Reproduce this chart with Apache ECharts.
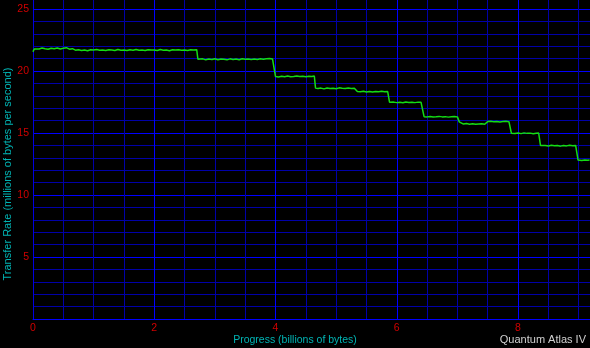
<!DOCTYPE html>
<html>
<head>
<meta charset="utf-8">
<script src="https://cdn.jsdelivr.net/npm/echarts@6/dist/echarts.min.js"></script>
<style>
html,body{margin:0;padding:0;background:#000;}
#chart{width:590px;height:348px;}
</style>
</head>
<body>
<div id="chart"></div>
<script>
// Progress (billions of bytes)
const progress = [
  0.00, 0.02, 0.05, 0.10, 0.15, 0.20, 0.25, 0.30, 0.35, 0.40, 0.45, 0.50, 0.55, 0.60, 0.65,
  0.70, 0.75, 0.80, 0.85, 0.90, 0.95, 1.00, 1.05, 1.10, 1.15, 1.20, 1.25, 1.30, 1.35, 1.40,
  1.45, 1.50, 1.55, 1.60, 1.65, 1.70, 1.75, 1.80, 1.85, 1.90, 1.95, 2.00, 2.05, 2.10, 2.15,
  2.20, 2.25, 2.30, 2.35, 2.40, 2.45, 2.50, 2.55, 2.60, 2.65, 2.70,
  2.72, 2.75, 2.80, 2.85, 2.90, 2.95, 3.00, 3.05, 3.10, 3.15, 3.20, 3.25, 3.30, 3.35, 3.40,
  3.45, 3.50, 3.55, 3.60, 3.65, 3.70, 3.75, 3.80, 3.85, 3.90, 3.95, 3.98,
  4.00, 4.05, 4.10, 4.15, 4.20, 4.25, 4.30, 4.35, 4.40, 4.45, 4.50, 4.55, 4.60, 4.64,
  4.66, 4.70, 4.75, 4.80, 4.85, 4.90, 4.95, 5.00, 5.05, 5.10, 5.15, 5.20, 5.25, 5.30, 5.33,
  5.35, 5.40, 5.45, 5.50, 5.55, 5.60, 5.65, 5.70, 5.75, 5.80, 5.85,
  5.88, 5.90, 5.95, 6.00, 6.05, 6.10, 6.15, 6.20, 6.25, 6.30, 6.35, 6.40, 6.43,
  6.45, 6.50, 6.55, 6.60, 6.65, 6.70, 6.75, 6.80, 6.85, 6.90, 6.95, 7.00,
  7.03, 7.05, 7.10, 7.15, 7.20, 7.25, 7.30, 7.35, 7.40, 7.45, 7.48,
  7.50, 7.55, 7.60, 7.65, 7.70, 7.75, 7.80, 7.85, 7.87,
  7.89, 7.95, 8.00, 8.05, 8.10, 8.15, 8.20, 8.25, 8.30, 8.34,
  8.37, 8.40, 8.45, 8.50, 8.55, 8.60, 8.65, 8.70, 8.75, 8.80, 8.85, 8.90, 8.95, 8.97,
  8.99, 9.05, 9.10, 9.15, 9.18
];
// Transfer Rate (millions of bytes per second)
const rate = [
  21.55, 21.78, 21.82, 21.78, 21.85, 21.80, 21.76, 21.84, 21.79, 21.86, 21.78, 21.83, 21.88, 21.76, 21.80,
  21.68, 21.72, 21.66, 21.70, 21.64, 21.71, 21.69, 21.74, 21.67, 21.70, 21.66, 21.72, 21.69, 21.65, 21.73,
  21.68, 21.70, 21.66, 21.71, 21.68, 21.74, 21.67, 21.70, 21.65, 21.72, 21.69, 21.70, 21.66, 21.73, 21.68,
  21.70, 21.64, 21.71, 21.69, 21.72, 21.67, 21.70, 21.66, 21.71, 21.69, 21.72,
  20.95, 20.92, 20.98, 20.90, 20.96, 20.93, 20.99, 20.91, 20.97, 20.94, 20.90, 20.98, 20.93, 20.96, 20.91,
  20.99, 20.94, 20.97, 20.92, 20.96, 20.93, 20.98, 20.95, 20.99, 21.00, 20.97, 20.96,
  19.55, 19.52, 19.57, 19.54, 19.59, 19.53, 19.56, 19.60, 19.55, 19.58, 19.54, 19.57, 19.55, 19.60,
  18.62, 18.58, 18.62, 18.56, 18.63, 18.59, 18.61, 18.57, 18.64, 18.60, 18.58, 18.62, 18.59, 18.61, 18.58,
  18.35, 18.32, 18.36, 18.30, 18.34, 18.31, 18.35, 18.33, 18.36, 18.32, 18.34,
  17.48, 17.46, 17.49, 17.45, 17.48, 17.44, 17.50, 17.46, 17.48, 17.45, 17.49, 17.47, 17.50,
  16.32, 16.30, 16.33, 16.29, 16.31, 16.34, 16.30, 16.32, 16.28, 16.31, 16.33, 16.30,
  15.90, 15.74, 15.72, 15.76, 15.71, 15.74, 15.70, 15.73, 15.75, 15.71, 15.72,
  15.92, 15.94, 15.90, 15.93, 15.89, 15.92, 15.95, 15.91, 15.93,
  14.98, 14.96, 15.00, 14.95, 15.01, 14.97, 14.99, 14.94, 14.98, 15.00,
  14.00, 13.96, 14.00, 13.95, 14.01, 13.97, 13.99, 13.94, 14.00, 13.96, 14.02, 13.97, 14.00, 13.95,
  12.82, 12.79, 12.83, 12.80, 12.82
];
const xTickLabels = ['0', '2', '4', '6', '8'];
const yTickLabels = ['5', '10', '15', '20', '25'];
const xTitle = 'Progress (billions of bytes)';
const yTitle = 'Transfer Rate (millions of bytes per second)';
const driveName = 'Quantum Atlas IV';

const data = progress.map((x, i) => [x, rate[i]]);
const FONT = '"Liberation Sans", Arial, sans-serif';
const major = '#0000ff';
const minor = '#0000a8';

const chart = echarts.init(document.getElementById('chart'), null, {renderer: 'canvas'});
chart.setOption({
  animation: false,
  backgroundColor: '#000000',
  grid: {left: 33, right: -49.3, top: -53, bottom: 29, containLabel: false, outerBoundsMode: 'none'},
  xAxis: {
    type: 'value', min: 0, max: 10, interval: 2,
    axisLine: {show: true, lineStyle: {color: major, width: 1}},
    axisTick: {show: false},
    minorTick: {show: false, splitNumber: 4},
    axisLabel: {
      color: '#d00000', fontSize: 10.5, fontFamily: FONT, margin: 4,
      formatter: v => (xTickLabels.indexOf(String(v)) >= 0 ? String(v) : '')
    },
    splitLine: {show: true, lineStyle: {color: major, width: 1}},
    minorSplitLine: {show: true, lineStyle: {color: minor, width: 1}}
  },
  yAxis: {
    type: 'value', min: 0, max: 30, interval: 5,
    axisLine: {show: true, lineStyle: {color: '#0000e0', width: 1}},
    axisTick: {show: false},
    minorTick: {show: false, splitNumber: 5},
    axisLabel: {
      color: '#d00000', fontSize: 10.5, fontFamily: FONT, margin: 4,
      formatter: v => (yTickLabels.indexOf(String(v)) >= 0 ? String(v) : '')
    },
    splitLine: {show: true, lineStyle: {color: major, width: 1}},
    minorSplitLine: {show: true, lineStyle: {color: minor, width: 1}}
  },
  graphic: [
    {type: 'text', left: 'center', top: 335,
     style: {text: xTitle, fill: '#00b4b4', font: '10.5px ' + FONT}},
    {type: 'text', x: 2, y: 174, rotation: Math.PI / 2,
     style: {text: yTitle, fill: '#00b4b4', font: '11px ' + FONT, align: 'center', verticalAlign: 'top'}},
    {type: 'text', right: 4, top: 334,
     style: {text: driveName, fill: '#d0d0d0', font: '11px ' + FONT}}
  ],
  series: [{
    type: 'line', data: data, showSymbol: false, symbol: 'none',
    lineStyle: {color: '#14dc14', width: 1.5},
    clip: true
  }]
});
</script>
</body>
</html>
